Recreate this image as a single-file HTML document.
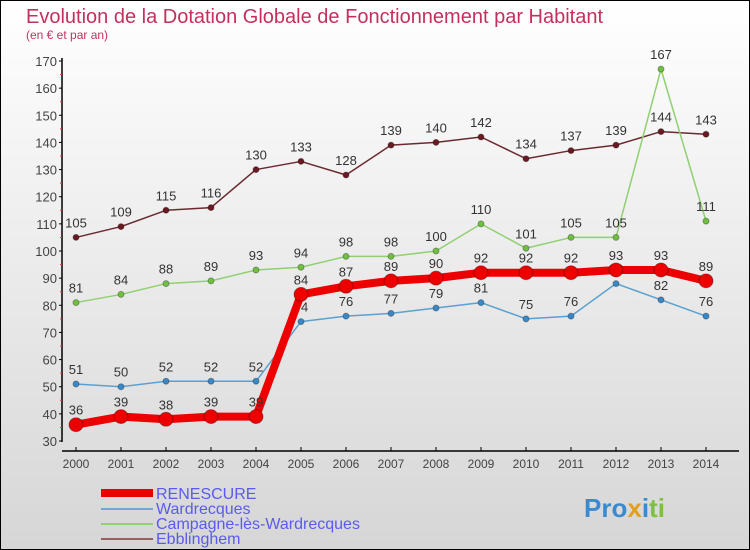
<!DOCTYPE html>
<html><head><meta charset="utf-8"><style>
body{margin:0}
#c{width:748px;height:548px;border:1px solid #000;background:linear-gradient(#fff,#d6d6d6);position:relative;font-family:"Liberation Sans",sans-serif;overflow:hidden}
</style></head><body>
<div id="c">
<svg width="748" height="548" id="s">
<text x="25" y="22" font-size="20" fill="#c4305e">Evolution de la Dotation Globale de Fonctionnement par Habitant</text>
<text x="25" y="38" font-size="12" fill="#c4305e">(en € et par an)</text>
<g id="axes"></g><g id="series"></g>
<g font-size="16" fill="#5a5aee">
<line x1="100" y1="492" x2="152" y2="492" stroke="#e00" stroke-width="8"/>
<text x="155" y="498">RENESCURE</text>
<line x1="100" y1="508" x2="152" y2="508" stroke="#6fa8d0" stroke-width="2"/>
<text x="155" y="513">Wardrecques</text>
<line x1="100" y1="523" x2="152" y2="523" stroke="#90d070" stroke-width="2"/>
<text x="155" y="528">Campagne-lès-Wardrecques</text>
<line x1="100" y1="538" x2="152" y2="538" stroke="#9a6060" stroke-width="2"/>
<text x="155" y="543">Ebblinghem</text>
</g>
<text x="583" y="516" font-size="26" font-weight="bold"><tspan fill="#3a8ad0">Pro</tspan><tspan fill="#e0a020">x</tspan><tspan fill="#3a8ad0">i</tspan><tspan fill="#80c040">ti</tspan></text>
</svg></div>
<script>
const years=[2000,2001,2002,2003,2004,2005,2006,2007,2008,2009,2010,2011,2012,2013,2014];
const renescure=[36,39,38,39,39,84,87,89,90,92,92,92,93,93,89];
const wardrecques=[51,50,52,52,52,74,76,77,79,81,75,76,88,82,76];
const campagne=[81,84,88,89,93,94,98,98,100,110,101,105,105,167,111];
const ebblinghem=[105,109,115,116,130,133,128,139,140,142,134,137,139,144,143];
const yTicks=[30,40,50,60,70,80,90,100,110,120,130,140,150,160,170];
const NS="http://www.w3.org/2000/svg";
const X=i=>75+i*45, Y=v=>440-(v-30)*380/140;
function mk(t,a,p){const e=document.createElementNS(NS,t);for(const k in a)e.setAttribute(k,a[k]);p.appendChild(e);return e;}
const ax=document.getElementById('axes');
let l=mk('line',{x1:61,y1:57,x2:61,y2:441,stroke:'#000','stroke-width':1.5},ax);


l=mk('line',{x1:61,y1:450,x2:738,y2:450,stroke:'#000','stroke-width':1.5},ax);


yTicks.forEach(v=>{mk('line',{x1:58,x2:61,y1:Y(v),y2:Y(v),stroke:'#000'},ax);
if(v<170)mk('line',{x1:59,x2:61,y1:Y(v+5),y2:Y(v+5),stroke:'#e33'},ax);
const t=mk('text',{x:56,y:Y(v)+5,'text-anchor':'end','font-size':13,fill:'#444'},ax);t.textContent=v;

});
years.forEach((y,i)=>{mk('line',{x1:X(i),x2:X(i),y1:446,y2:450,stroke:'#000'},ax);
const t=mk('text',{x:X(i),y:467,'text-anchor':'middle','font-size':12,fill:'#444'},ax);t.textContent=y;

});
const sg=document.getElementById('series');
function draw(d,name,col,w,r,dot){
const g=mk('g',{},sg);


mk('polyline',{points:d.map((v,i)=>X(i)+','+Y(v)).join(' '),fill:'none',stroke:col,'stroke-width':w,'stroke-linejoin':'round'},g);
d.forEach((v,i)=>{const c=mk('circle',{cx:X(i),cy:Y(v),r:r,fill:dot,stroke:'rgba(0,0,0,0.3)'},g);


const t=mk('text',{x:X(i),y:Y(v)-10,'text-anchor':'middle','font-size':13,fill:'#333'},g);t.textContent=v;

});}
draw(ebblinghem,'ebblinghem','#6a2a30',1.5,3,'#6a1a20');
draw(campagne,'campagne','#90d070',1.5,3,'#70c040');
draw(wardrecques,'wardrecques','#5aa0d0',1.5,3,'#3a88c8');
draw(renescure,'renescure','#e00',8,7,'#e00');
</script>
</body></html>
